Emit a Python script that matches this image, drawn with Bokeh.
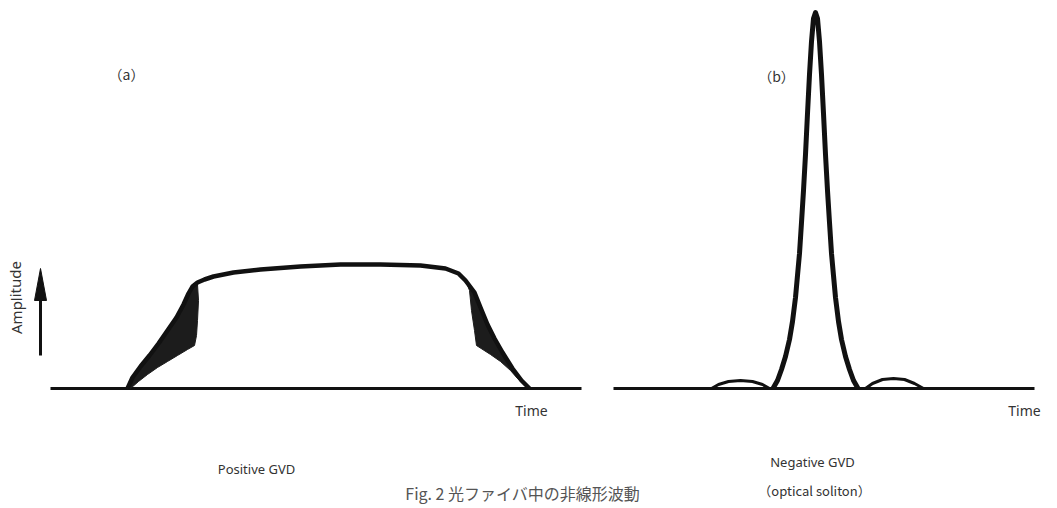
from bokeh.plotting import figure
from bokeh.models import Range1d
from bokeh.core.properties import value
from bokeh.embed import file_html
from bokeh.resources import INLINE

# Time runs left to right; amplitude is measured upward from the common baseline.
# (a) Positive GVD: broadened, flat-topped pulse with chirped (shaded) edges
pos_outer_t = [127, 132, 140, 149, 158, 167, 176, 183, 188, 192, 197, 204, 213, 233,
               260, 300, 340, 380, 420, 445, 458, 465,
               474, 480, 487, 494, 502, 512, 521, 529]
pos_outer_amp = [0, 11, 22, 33, 45, 58, 71, 84, 95, 102, 106, 109, 112, 116,
                 119, 122, 124, 124, 123, 120, 115, 108,
                 96, 81, 64, 50, 36, 20, 8, 0]

# inner edges of the shaded leading and trailing wings
pos_lead_inner_t = [197, 198, 197, 196, 194, 187, 177, 167, 157, 147, 138, 130]
pos_lead_inner_amp = [104, 88, 68, 53, 43, 39, 33, 27, 21, 14, 7, 0]
pos_trail_inner_t = [466, 469, 471, 474, 476, 490, 500, 510, 517, 529]
pos_trail_inner_amp = [106, 98, 78, 58, 43, 34, 27, 18, 10, 0]

# (b) Negative GVD: soliton pulse with two small side lobes
neg_pulse_t = [773, 777, 781, 785, 789, 792, 795, 797, 799, 801, 803, 805, 807, 809,
               811, 813, 815, 817, 819, 821, 823, 825, 827, 829, 831, 833, 835, 838,
               841, 845, 849, 853, 857]
neg_pulse_amp = [1, 8, 19, 32, 49, 67, 91, 113, 135, 166, 198, 234, 275, 314,
                 347, 370, 376, 370, 347, 314, 275, 234, 198, 166, 135, 113, 91, 67,
                 49, 32, 19, 8, 1]
neg_lobe_l_t = [711, 718, 728, 740, 752, 762, 769]
neg_lobe_l_amp = [0, 4, 7, 8, 7, 4, 0]
neg_lobe_r_t = [865, 872, 882, 893, 904, 914, 923]
neg_lobe_r_amp = [0, 5, 9, 10, 9, 5, 0]

# baselines (time axes) of both panels
base_a = [50, 581]
base_b = [613, 1034]

# amplitude arrow
arrow_t = 40
arrow_tail, arrow_tip = 33, 120
head_len, head_half_w = 32, 6

ink = "#111111"
font = value("Noto Sans")
cjk = value("Noto Sans CJK JP")

p = figure(width=1057, height=508, x_range=Range1d(0, 1057), y_range=Range1d(-120, 388),
           x_axis_type=None, y_axis_type=None, toolbar_location=None,
           output_backend="svg", min_border=0, outline_line_color=None)
p.grid.visible = False
p.background_fill_color = "white"
p.border_fill_color = "white"

# baselines
p.line(base_a, [0, 0], line_color=ink, line_width=3)
p.line(base_b, [0, 0], line_color=ink, line_width=3)

# shaded wings of the positive-GVD pulse
i_lead = pos_outer_t.index(197)
lead_x = pos_outer_t[:i_lead + 1] + pos_lead_inner_t
lead_y = pos_outer_amp[:i_lead + 1] + pos_lead_inner_amp
p.patch(lead_x, lead_y, fill_color="#1c1c1c", line_color="#1c1c1c", line_width=1)
i_sh = pos_outer_t.index(465)
trail_x = pos_outer_t[i_sh:] + pos_trail_inner_t[::-1]
trail_y = pos_outer_amp[i_sh:] + pos_trail_inner_amp[::-1]
p.patch(trail_x, trail_y, fill_color="#1c1c1c", line_color="#1c1c1c", line_width=1)

# outer envelope
p.line(pos_outer_t, pos_outer_amp, line_color=ink, line_width=4.5, line_join="round")

# soliton and side lobes
p.line(neg_lobe_l_t, neg_lobe_l_amp, line_color=ink, line_width=3, line_join="round")
p.line(neg_lobe_r_t, neg_lobe_r_amp, line_color=ink, line_width=3, line_join="round")
p.line(neg_pulse_t, neg_pulse_amp, line_color=ink, line_width=5, line_join="round",
       line_cap="round")

# amplitude arrow
p.line([arrow_t, arrow_t], [arrow_tail, arrow_tip - head_len + 2], line_color=ink, line_width=3)
p.patch([arrow_t - head_half_w, arrow_t, arrow_t + head_half_w],
        [arrow_tip - head_len, arrow_tip, arrow_tip - head_len], fill_color=ink, line_color=ink)
p.text([15], [91], text=["Amplitude"], angle=1.5708, text_font=font, text_font_size="15px",
       text_color="#333333", text_align="center", text_baseline="middle")

# panel labels
p.text([126], [315], text=["（a）"], text_font=cjk, text_font_size="14px",
       text_color="#333333", text_align="center", text_baseline="middle")
p.text([776], [313], text=["（b）"], text_font=cjk, text_font_size="14px",
       text_color="#333333", text_align="center", text_baseline="middle")

# axis and caption texts
p.text([531], [-22], text=["Time"], text_font=font, text_font_size="14px",
       text_color="#333333", text_align="center", text_baseline="middle")
p.text([1024], [-22], text=["Time"], text_font=font, text_font_size="14px",
       text_color="#333333", text_align="center", text_baseline="middle")
p.text([256], [-80], text=["Positive GVD"], text_font=font, text_font_size="13px",
       text_color="#333333", text_align="center", text_baseline="middle")
p.text([812], [-73], text=["Negative GVD"], text_font=font, text_font_size="13px",
       text_color="#333333", text_align="center", text_baseline="middle")
p.text([814], [-102], text=["（optical soliton）"], text_font=cjk, text_font_size="13px",
       text_color="#333333", text_align="center", text_baseline="middle")
p.text([524], [-104], text=["Fig. 2  光ファイバ中の非線形波動"], text_font=cjk,
       text_font_size="16px", text_color="#555555", text_align="center",
       text_baseline="middle")

open("out.html", "w").write(file_html(p, INLINE))
